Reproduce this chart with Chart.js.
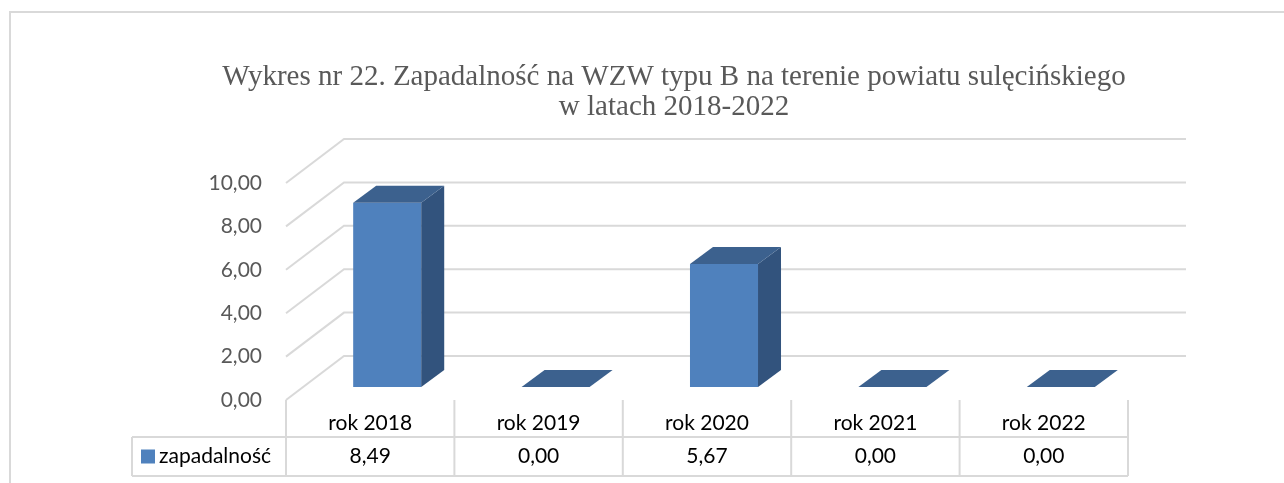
<!DOCTYPE html>
<html>
<head>
<meta charset="utf-8">
<script src="https://cdn.jsdelivr.net/npm/chart.js@4/dist/chart.umd.min.js"></script>
<style>
html,body{margin:0;padding:0;background:#fff;}
#wrap{position:relative;width:1284px;height:483px;overflow:hidden;}
canvas{display:block;}
</style>
</head>
<body>
<div id="wrap"><canvas id="c" width="1284" height="483"></canvas></div>
<script>
// ---- data ----
const titleLines = ['Wykres nr 22. Zapadalność na WZW typu B na terenie powiatu sulęcińskiego', 'w latach 2018-2022'];
const categories = ['rok 2018', 'rok 2019', 'rok 2020', 'rok 2021', 'rok 2022'];
const seriesName = 'zapadalność';
const values = [8.49, 0.00, 5.67, 0.00, 0.00];
const yMin = 0, yMax = 10, yStep = 2;

// ---- style ----
const fmt = v => v.toFixed(2).replace('.', ',');
const GRID = '#d9d9d9';
const FRONT = '#4f81bd', TOPC = '#3c618e', SIDE = '#32537d';
const WALL = {dx: 58, dy: -44};     // back wall offset
const BAR_OFF = {dx: 17, dy: -13};  // bar plane offset
const BAR_D = {dx: 23, dy: -17};    // bar depth
const SANS = 'Lato';

const framePlugin = {
  id: 'frame',
  beforeDraw(chart) {
    const ctx = chart.ctx;
    ctx.save();
    ctx.fillStyle = '#fff';
    ctx.fillRect(0, 0, chart.width, chart.height);
    ctx.strokeStyle = GRID;
    ctx.lineWidth = 2;
    ctx.strokeRect(10, 12, 1400, 600);
    // title
    ctx.fillStyle = '#595959';
    ctx.font = '29px "Liberation Serif"';
    ctx.textAlign = 'center';
    ctx.textBaseline = 'alphabetic';
    ctx.fillText(titleLines[0], 674, 85);
    ctx.fillText(titleLines[1], 674, 115);
    ctx.restore();
  }
};

const threeD = {
  id: 'threeD',
  beforeDatasetsDraw(chart) {
    const ctx = chart.ctx, y = chart.scales.y, a = chart.chartArea;
    ctx.save();
    ctx.strokeStyle = GRID;
    ctx.lineWidth = 2;
    for (let v = yMin; v <= yMax + 1e-9; v += yStep) {
      const yf = y.getPixelForValue(v);
      ctx.beginPath();
      ctx.moveTo(a.left, yf);
      ctx.lineTo(a.left + WALL.dx, yf + WALL.dy);
      ctx.lineTo(a.right + WALL.dx, yf + WALL.dy);
      ctx.stroke();
    }
    ctx.restore();
    ctx.save();
    ctx.translate(BAR_OFF.dx, BAR_OFF.dy);
  },
  afterDatasetsDraw(chart) {
    const ctx = chart.ctx;
    const meta = chart.getDatasetMeta(0);
    meta.data.forEach(el => {
      const p = el.getProps(['x', 'y', 'base', 'width'], true);
      const l = p.x - p.width / 2, r = p.x + p.width / 2;
      const top = Math.min(p.y, p.base), bot = p.base;
      if (bot - top > 0.5) {
        ctx.fillStyle = SIDE;
        ctx.beginPath();
        ctx.moveTo(r, top);
        ctx.lineTo(r + BAR_D.dx, top + BAR_D.dy);
        ctx.lineTo(r + BAR_D.dx, bot + BAR_D.dy);
        ctx.lineTo(r, bot);
        ctx.closePath();
        ctx.fill();
      }
      ctx.fillStyle = TOPC;
      ctx.beginPath();
      ctx.moveTo(l, top);
      ctx.lineTo(r, top);
      ctx.lineTo(r + BAR_D.dx, top + BAR_D.dy);
      ctx.lineTo(l + BAR_D.dx, top + BAR_D.dy);
      ctx.closePath();
      ctx.fill();
    });
    ctx.restore();
  }
};

const tablePlugin = {
  id: 'dataTable',
  afterDraw(chart) {
    const ctx = chart.ctx, x = chart.scales.x, a = chart.chartArea;
    const n = categories.length;
    const cw = (a.right - a.left) / n;
    const top = a.bottom, r1 = a.bottom + 37, r2 = a.bottom + 76;
    const tLeft = a.left - 154;
    ctx.save();
    ctx.strokeStyle = GRID;
    ctx.lineWidth = 2;
    ctx.beginPath();
    for (let i = 0; i <= n; i++) {
      const xx = a.left + i * cw;
      ctx.moveTo(xx, top); ctx.lineTo(xx, r2);
    }
    ctx.moveTo(tLeft, r1); ctx.lineTo(a.right, r1);
    ctx.moveTo(tLeft, r2); ctx.lineTo(a.right, r2);
    ctx.moveTo(tLeft, r1); ctx.lineTo(tLeft, r2);
    ctx.stroke();
    const cy = (r1 + r2) / 2;
    ctx.fillStyle = FRONT;
    ctx.fillRect(tLeft + 9, cy - 7, 14, 14);
    ctx.fillStyle = '#000';
    ctx.font = '21px ' + SANS;
    ctx.textBaseline = 'middle';
    ctx.textAlign = 'left';
    ctx.fillText(seriesName, tLeft + 27, cy);
    ctx.textAlign = 'center';
    values.forEach((v, i) => ctx.fillText(fmt(v), x.getPixelForValue(i), cy));
    ctx.restore();
  }
};

new Chart(document.getElementById('c'), {
  type: 'bar',
  data: {
    labels: categories,
    datasets: [{
      label: seriesName,
      data: values,
      backgroundColor: FRONT,
      borderWidth: 0,
      barPercentage: 0.404,
      categoryPercentage: 1,
      clip: false
    }]
  },
  options: {
    responsive: false,
    animation: false,
    devicePixelRatio: 1,
    layout: {padding: {left: 0, right: 156, top: 183, bottom: 0}},
    plugins: {
      legend: {display: false},
      tooltip: {enabled: false},
      title: {display: false}
    },
    scales: {
      x: {
        grid: {display: false, drawTicks: false},
        border: {display: false},
        ticks: {color: '#000', font: {family: SANS, size: 21}, padding: 11, maxRotation: 0, autoSkip: false},
        afterFit(s) { s.height = 83; }
      },
      y: {
        min: yMin, max: yMax,
        grid: {display: false, drawTicks: false},
        border: {display: false},
        ticks: {stepSize: yStep, color: '#595959', font: {family: SANS, size: 21}, padding: 24,
                callback: v => fmt(v)},
        afterFit(s) { s.width = 286; }
      }
    }
  },
  plugins: [framePlugin, threeD, tablePlugin]
});
</script>
</body>
</html>
